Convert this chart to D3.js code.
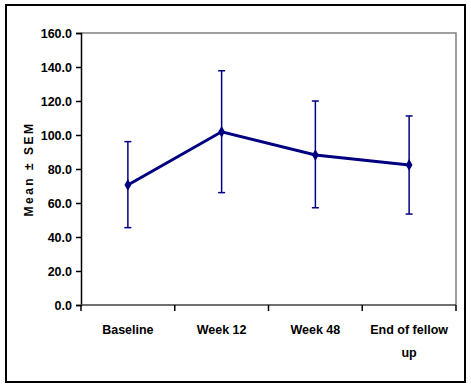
<!DOCTYPE html>
<html>
<head>
<meta charset="utf-8">
<script src="https://cdn.jsdelivr.net/npm/d3@7"></script>
<style>
  body { margin: 0; background: #fff; }
  text { font-family: Arial, "Liberation Sans", sans-serif; font-weight: bold; }
</style>
</head>
<body>
<svg></svg>
<script>
var categories = ["Baseline", "Week 12", "Week 48", "End of fellow up"]
var means = [70.6, 101.9, 88.2, 82.4]
var upper = [96.1, 137.8, 120.0, 111.2]
var lower = [45.5, 66.1, 57.2, 53.5]
var yTicks = [0, 20, 40, 60, 80, 100, 120, 140, 160]

var width = 471
var height = 389
var plot = { left: 81, top: 33, right: 456, bottom: 305 }
var navy = "#000080"

var svg = d3.select("svg")
  .attr("width", width)
  .attr("height", height)

// outer chart border
svg.append("rect")
  .attr("x", 6).attr("y", 5)
  .attr("width", 459).attr("height", 377)
  .attr("fill", "#fff")
  .attr("stroke", "#000")
  .attr("stroke-width", 2)

var x = d3.scaleBand()
  .domain(categories)
  .range([plot.left, plot.right])

var y = d3.scaleLinear()
  .domain([0, 160])
  .range([plot.bottom, plot.top])

// plot area border (gray)
svg.append("path")
  .attr("d", "M" + plot.left + "," + plot.top + "H" + plot.right + "V" + plot.bottom)
  .attr("fill", "none")
  .attr("stroke", "#808080")
  .attr("stroke-width", 1.5)

// y axis
var yAxis = svg.append("g")
  .attr("transform", "translate(" + plot.left + ",0)")
  .call(d3.axisLeft(y).tickValues(yTicks).tickSize(5).tickPadding(4)
    .tickFormat(d3.format(".1f")))
yAxis.selectAll("text").attr("font-size", 12.5).attr("fill", "#000")
yAxis.select(".domain").attr("stroke", "#000").attr("stroke-width", 1.5)
yAxis.selectAll(".tick line").attr("stroke", "#000").attr("stroke-width", 1.5)

// x axis
var xAxis = svg.append("g")
  .attr("transform", "translate(0," + plot.bottom + ")")
xAxis.append("line")
  .attr("x1", plot.left).attr("x2", plot.right)
  .attr("stroke", "#404040").attr("stroke-width", 1.5)
var bounds = categories.map(function (c) { return x(c) }).concat([plot.right])
xAxis.selectAll(".xt")
  .data(bounds)
  .enter().append("line")
  .attr("x1", function (d) { return d }).attr("x2", function (d) { return d })
  .attr("y1", 0).attr("y2", 6)
  .attr("stroke", "#000").attr("stroke-width", 1.5)

// x labels (wrap long one)
var lines = { "End of fellow up": ["End of fellow", "up"] }
categories.forEach(function (c) {
  var parts = lines[c] || [c]
  var t = svg.append("text")
    .attr("x", x(c) + x.bandwidth() / 2)
    .attr("y", 334)
    .attr("text-anchor", "middle")
    .attr("font-size", 12.5)
  parts.forEach(function (p, i) {
    t.append("tspan")
      .attr("x", x(c) + x.bandwidth() / 2)
      .attr("dy", i == 0 ? 0 : 23)
      .text(p)
  })
})

// y title
svg.append("text")
  .attr("transform", "translate(33," + (plot.top + plot.bottom) / 2 + ") rotate(-90)")
  .attr("text-anchor", "middle")
  .attr("font-size", 12)
  .attr("letter-spacing", 2.5)
  .text("Mean ± SEM")

var cx = function (i) { return x(categories[i]) + x.bandwidth() / 2 }

// error bars
var eb = svg.append("g").attr("stroke", navy).attr("stroke-width", 1.5)
means.forEach(function (m, i) {
  eb.append("line")
    .attr("x1", cx(i)).attr("x2", cx(i))
    .attr("y1", y(lower[i])).attr("y2", y(upper[i]))
  ;[upper[i], lower[i]].forEach(function (v) {
    eb.append("line")
      .attr("x1", cx(i) - 3.5).attr("x2", cx(i) + 3.5)
      .attr("y1", y(v)).attr("y2", y(v))
  })
})

// mean line
var line = d3.line()
  .x(function (d, i) { return cx(i) })
  .y(function (d) { return y(d) })

svg.append("path")
  .datum(means)
  .attr("d", line)
  .attr("fill", "none")
  .attr("stroke", navy)
  .attr("stroke-width", 3)

// diamond markers
svg.selectAll(".mk")
  .data(means)
  .enter().append("path")
  .attr("d", d3.symbol().type(d3.symbolDiamond).size(40))
  .attr("transform", function (d, i) { return "translate(" + cx(i) + "," + y(d) + ")" })
  .attr("fill", navy)
</script>
</body>
</html>
